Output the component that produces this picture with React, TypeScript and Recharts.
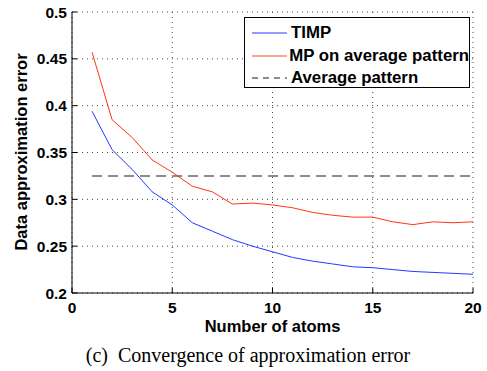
import {
  LineChart,
  Line,
  XAxis,
  YAxis,
  CartesianGrid,
  ReferenceLine,
  Legend,
} from "recharts";

const atoms = [1, 2, 3, 4, 5, 6, 7, 8, 9, 10, 11, 12, 13, 14, 15, 16, 17, 18, 19, 20];
const timp = [0.394, 0.353, 0.332, 0.308, 0.294, 0.275, 0.266, 0.257, 0.25, 0.244, 0.238, 0.234, 0.231, 0.228, 0.227, 0.225, 0.223, 0.222, 0.221, 0.22];
const mpAverage = [0.457, 0.385, 0.366, 0.342, 0.329, 0.314, 0.308, 0.295, 0.296, 0.294, 0.291, 0.286, 0.283, 0.281, 0.281, 0.276, 0.273, 0.276, 0.275, 0.276];
const averagePattern = 0.325;

const xTicks = [0, 5, 10, 15, 20];
const yTicks = [0.2, 0.25, 0.3, 0.35, 0.4, 0.45, 0.5];

const legendItems = [
  { name: "TIMP", color: "#6b7dff", dash: undefined },
  { name: "MP on average pattern", color: "#ff8472", dash: undefined },
  { name: "Average pattern", color: "#666", dash: "6 5" },
];

const data = atoms.map((n, i) => ({ n, timp: timp[i], mp: mpAverage[i] }));

const FONT = "'Liberation Sans', Arial, sans-serif";
const tickStyle = { fontSize: 15.5, fontWeight: 700, fill: "#000", fontFamily: FONT };

function fmt(v: number) {
  return String(Math.round(v * 100) / 100);
}

function LegendBox() {
  return (
    <div
      style={{
        border: "1px solid #000",
        background: "#fff",
        width: 226,
        height: 71,
        boxSizing: "border-box",
        fontFamily: FONT,
        fontWeight: 700,
        fontSize: 16.8,
        color: "#000",
        paddingTop: 4,
      }}
    >
      {legendItems.map((it) => (
        <div key={it.name} style={{ display: "flex", alignItems: "center", height: 22.5, whiteSpace: "nowrap" }}>
          <svg width={46} height={10}>
            <line x1={7} x2={42} y1={5} y2={5} stroke={it.color} strokeWidth={1.5} strokeDasharray={it.dash} />
          </svg>
          <span>{it.name}</span>
        </div>
      ))}
    </div>
  );
}

export default function App() {
  return (
    <div style={{ position: "absolute", left: 0, top: 0, width: 487, height: 371, background: "#fff" }}>
      <LineChart width={487} height={371} data={data} margin={{ top: 12, right: 14, bottom: 0, left: 0 }}>
        <CartesianGrid stroke="#444" strokeDasharray="1 4" />
        <XAxis
          dataKey="n"
          type="number"
          domain={[0, 20]}
          ticks={xTicks}
          height={78}
          stroke="#000"
          tickSize={-5}
          tickMargin={14}
          tick={tickStyle}
          label={{ value: "Number of atoms", position: "insideBottom", offset: 39, style: { ...tickStyle, fontSize: 16.5 } }}
        />
        <XAxis xAxisId="top" orientation="top" dataKey="n" type="number" domain={[0, 20]} ticks={xTicks} height={0} stroke="#000" tickSize={-5} tick={false} />
        <YAxis
          type="number"
          domain={[0.2, 0.5]}
          ticks={yTicks}
          width={72}
          stroke="#000"
          tickSize={-5}
          tickMargin={10}
          tickFormatter={fmt}
          tick={tickStyle}
        />
        <YAxis yAxisId="right" orientation="right" type="number" domain={[0.2, 0.5]} ticks={yTicks} width={0} stroke="#000" tickSize={-5} tick={false} />
        <ReferenceLine
          segment={[
            { x: atoms[0], y: averagePattern },
            { x: atoms[atoms.length - 1], y: averagePattern },
          ]}
          stroke="#666"
          strokeWidth={1.5}
          strokeDasharray="10 6"
        />
        <Line dataKey="timp" stroke="#1f3cff" strokeWidth={1} dot={false} isAnimationActive={false} />
        <Line dataKey="mp" stroke="#ff3418" strokeWidth={1} dot={false} isAnimationActive={false} />
        <Legend
          layout="horizontal"
          verticalAlign="middle"
          align="center"
          wrapperStyle={{ left: 244, top: 17, width: 226, height: 71 }}
          content={() => <LegendBox />}
        />
      </LineChart>
      <div
        style={{
          position: "absolute",
          left: 21,
          top: 152,
          transform: "translate(-50%, -50%) rotate(-90deg)",
          whiteSpace: "nowrap",
          fontFamily: FONT,
          fontWeight: 700,
          fontSize: 16.5,
        }}
      >
        Data approximation error
      </div>
      <div
        style={{
          position: "absolute",
          left: 0,
          width: 496,
          top: 344,
          lineHeight: "23px",
          textAlign: "center",
          fontFamily: "'Liberation Serif', 'Times New Roman', serif",
          fontSize: 20,
          whiteSpace: "pre",
        }}
      >
        {"(c)  Convergence of approximation error"}
      </div>
    </div>
  );
}
